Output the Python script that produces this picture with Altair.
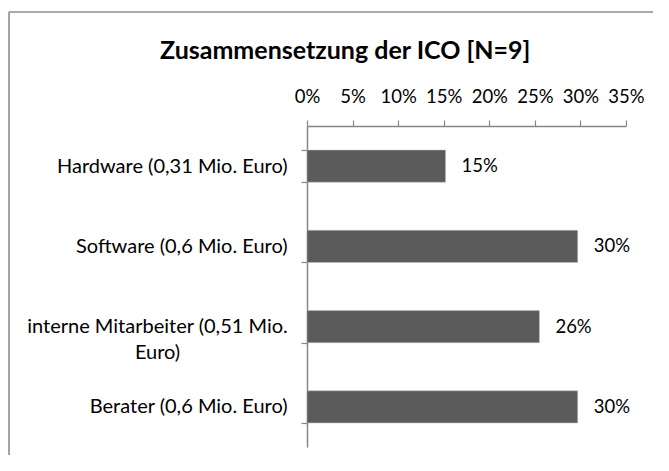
import altair as alt
import pandas as pd

title_text = "Zusammensetzung der ICO [N=9]"
categories = [
    "Hardware (0,31 Mio. Euro)",
    "Software (0,6 Mio. Euro)",
    "interne Mitarbeiter (0,51 Mio. Euro)",
    "Berater (0,6 Mio. Euro)",
]
shares = [0.152, 0.297, 0.255, 0.297]
share_labels = ["15%", "30%", "26%", "30%"]
tick_values = [0, 0.05, 0.10, 0.15, 0.20, 0.25, 0.30, 0.35]

df = pd.DataFrame({"cat": categories, "share": shares, "label": share_labels})

FONT = "Lato"
GRAY = "#868686"
WRAPPED = "datum.value == 'interne Mitarbeiter (0,51 Mio. Euro)'"

y_enc = alt.Y(
    "cat:N",
    sort=categories,
    title=None,
    scale=alt.Scale(paddingInner=0.6, paddingOuter=0.3),
    axis=alt.Axis(
        labelExpr=WRAPPED + " ? ['interne Mitarbeiter (0,51 Mio.', 'Euro)'] : datum.value",
        labelFont=FONT,
        labelFontSize=20,
        labelColor="#000000",
        labelPadding={"condition": {"test": WRAPPED, "value": 144}, "value": 14},
        labelAlign={"condition": {"test": WRAPPED, "value": "center"}, "value": "right"},
        labelLineHeight=26,
        tickBand="extent",
        tickSize=6,
        tickColor=GRAY,
        domainColor=GRAY,
        domainWidth=1.5,
        tickWidth=1.2,
        labelLimit=400,
    ),
)

bars = alt.Chart(df).mark_bar(color="#5b5b5b", stroke="#bdbdbd", strokeWidth=0.5).encode(
    x=alt.X(
        "share:Q",
        title=None,
        scale=alt.Scale(domain=[0, 0.35], nice=False),
        axis=alt.Axis(
            orient="top",
            format=".0%",
            values=tick_values,
            labelFont=FONT,
            labelFontSize=18.5,
            labelColor="#000000",
            labelPadding=14,
            tickSize=6,
            tickColor=GRAY,
            domainColor=GRAY,
            domainWidth=1.5,
            tickWidth=1.2,
            grid=False,
            labelFlush=False,
            labelOverlap=False,
        ),
    ),
    y=y_enc,
)

texts = alt.Chart(df).mark_text(
    align="left", baseline="middle", dx=16, font=FONT, fontSize=18.5, color="#000000"
).encode(x="share:Q", y=alt.Y("cat:N", sort=categories), text="label:N")

title = alt.Chart(pd.DataFrame({"t": [title_text]})).mark_text(
    align="left", baseline="alphabetic", font=FONT, fontSize=25, fontWeight="bold", color="#000000"
).encode(x=alt.value(-147), y=alt.value(-67), text="t:N")

frame_left = alt.Chart(pd.DataFrame({"f": [0]})).mark_rule(
    color="#8c8c8c", strokeWidth=1.6
).encode(x=alt.value(-298), y=alt.value(-114), y2=alt.value(329))

frame_top = alt.Chart(pd.DataFrame({"f": [0]})).mark_rule(
    color="#8c8c8c", strokeWidth=1.6
).encode(x=alt.value(-298), x2=alt.value(346), y=alt.value(-114))

chart = (
    alt.layer(frame_left, frame_top, bars, texts, title)
    .properties(
        width=319,
        height=321,
        padding={"left": 299, "top": 118, "right": 35, "bottom": 16},
        autosize=alt.AutoSizeParams(type="none"),
    )
    .configure_view(stroke=None)
)

chart.save("out.html", embed_options={"renderer": "svg", "actions": False})
